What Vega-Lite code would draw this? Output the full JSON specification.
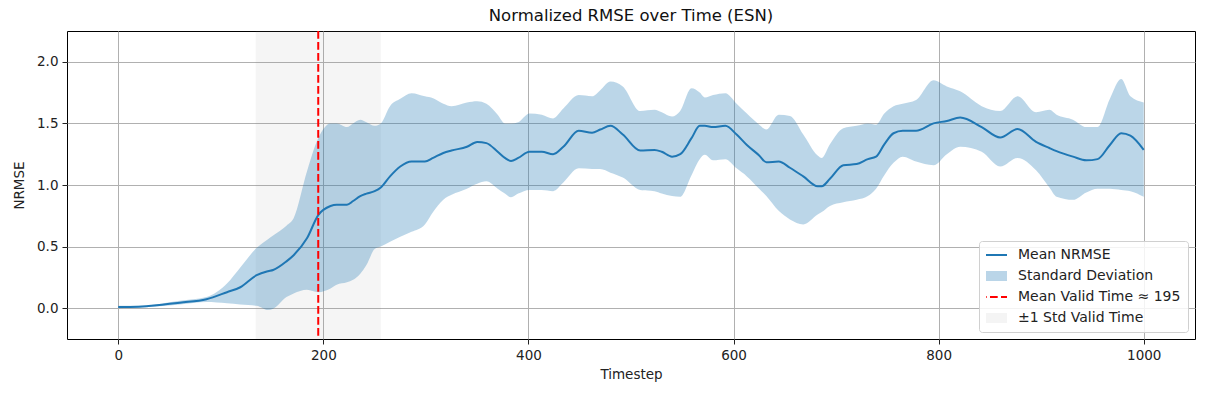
{
  "$schema": "https://vega.github.io/schema/vega-lite/v6.json",
  "width": 1128,
  "height": 308,
  "autosize": {"type": "none"},
  "padding": {"left": 67, "top": 31, "right": 19, "bottom": 55},
  "background": "white",
  "config": {
    "font": "DejaVu Sans",
    "view": {"stroke": "black", "strokeWidth": 1},
    "axis": {
      "labelFont": "DejaVu Sans", "labelFontSize": 13.5, "labelColor": "#222",
      "titleFont": "DejaVu Sans", "titleFontSize": 13.5, "titleFontWeight": "normal", "titleColor": "#222",
      "grid": true, "gridColor": "#b0b0b0", "gridWidth": 1,
      "domain": false, "tickColor": "#222", "tickSize": 5, "labelPadding": 4
    }
  },
  "title": {"text": "Normalized RMSE over Time (ESN)", "font": "DejaVu Sans", "fontSize": 16.5, "fontWeight": "normal", "color": "#111", "offset": 6},
  "datasets": {
    "series": [
      {"t": 0, "mean": 0.01, "lo": 0.0, "hi": 0.02},
      {"t": 20, "mean": 0.012, "lo": 0.005, "hi": 0.02},
      {"t": 40, "mean": 0.025, "lo": 0.015, "hi": 0.035},
      {"t": 60, "mean": 0.045, "lo": 0.03, "hi": 0.06},
      {"t": 86, "mean": 0.073, "lo": 0.05, "hi": 0.09},
      {"t": 106, "mean": 0.13, "lo": 0.04, "hi": 0.2},
      {"t": 119, "mean": 0.17, "lo": 0.03, "hi": 0.33},
      {"t": 135, "mean": 0.268, "lo": 0.02, "hi": 0.49},
      {"t": 146, "mean": 0.3, "lo": -0.015, "hi": 0.56},
      {"t": 151, "mean": 0.31, "lo": -0.005, "hi": 0.59},
      {"t": 164, "mean": 0.38, "lo": 0.09, "hi": 0.67},
      {"t": 171, "mean": 0.43, "lo": 0.12, "hi": 0.73},
      {"t": 184, "mean": 0.567, "lo": 0.15, "hi": 1.11},
      {"t": 195, "mean": 0.756, "lo": 0.13, "hi": 1.38},
      {"t": 207, "mean": 0.83, "lo": 0.16, "hi": 1.5},
      {"t": 213, "mean": 0.84, "lo": 0.19, "hi": 1.5},
      {"t": 223, "mean": 0.84, "lo": 0.21, "hi": 1.47},
      {"t": 229, "mean": 0.87, "lo": 0.23, "hi": 1.5},
      {"t": 236, "mean": 0.91, "lo": 0.28, "hi": 1.53},
      {"t": 242, "mean": 0.93, "lo": 0.35, "hi": 1.51},
      {"t": 250, "mean": 0.95, "lo": 0.48, "hi": 1.48},
      {"t": 256, "mean": 0.98, "lo": 0.5, "hi": 1.5},
      {"t": 265, "mean": 1.07, "lo": 0.54, "hi": 1.64},
      {"t": 275, "mean": 1.15, "lo": 0.58, "hi": 1.7},
      {"t": 286, "mean": 1.19, "lo": 0.62, "hi": 1.745},
      {"t": 299, "mean": 1.19, "lo": 0.68, "hi": 1.72},
      {"t": 307, "mean": 1.22, "lo": 0.78, "hi": 1.705},
      {"t": 317, "mean": 1.26, "lo": 0.88, "hi": 1.66},
      {"t": 325, "mean": 1.28, "lo": 0.92, "hi": 1.64},
      {"t": 340, "mean": 1.31, "lo": 0.97, "hi": 1.67},
      {"t": 350, "mean": 1.35, "lo": 1.01, "hi": 1.68},
      {"t": 359, "mean": 1.34, "lo": 1.03, "hi": 1.66},
      {"t": 370, "mean": 1.27, "lo": 0.97, "hi": 1.57},
      {"t": 377, "mean": 1.22, "lo": 0.93, "hi": 1.5},
      {"t": 383, "mean": 1.195, "lo": 0.9, "hi": 1.5},
      {"t": 390, "mean": 1.22, "lo": 0.93, "hi": 1.51},
      {"t": 401, "mean": 1.27, "lo": 0.96, "hi": 1.58},
      {"t": 413, "mean": 1.27, "lo": 0.96, "hi": 1.57},
      {"t": 424, "mean": 1.25, "lo": 0.95, "hi": 1.54},
      {"t": 434, "mean": 1.31, "lo": 1.02, "hi": 1.62},
      {"t": 449, "mean": 1.44, "lo": 1.135, "hi": 1.73},
      {"t": 462, "mean": 1.425, "lo": 1.13, "hi": 1.72},
      {"t": 470, "mean": 1.45, "lo": 1.13, "hi": 1.77},
      {"t": 480, "mean": 1.48, "lo": 1.1, "hi": 1.84},
      {"t": 492, "mean": 1.41, "lo": 1.06, "hi": 1.8},
      {"t": 509, "mean": 1.28, "lo": 0.96, "hi": 1.6},
      {"t": 523, "mean": 1.285, "lo": 0.95, "hi": 1.61},
      {"t": 530, "mean": 1.27, "lo": 0.93, "hi": 1.59},
      {"t": 540, "mean": 1.23, "lo": 0.91, "hi": 1.555},
      {"t": 548, "mean": 1.25, "lo": 0.905, "hi": 1.6},
      {"t": 559, "mean": 1.38, "lo": 1.08, "hi": 1.785},
      {"t": 567, "mean": 1.48, "lo": 1.21, "hi": 1.75},
      {"t": 572, "mean": 1.48, "lo": 1.245, "hi": 1.71},
      {"t": 580, "mean": 1.47, "lo": 1.2, "hi": 1.73},
      {"t": 592, "mean": 1.48, "lo": 1.21, "hi": 1.745},
      {"t": 603, "mean": 1.41, "lo": 1.135, "hi": 1.66},
      {"t": 613, "mean": 1.325, "lo": 1.07, "hi": 1.58},
      {"t": 625, "mean": 1.24, "lo": 0.97, "hi": 1.49},
      {"t": 632, "mean": 1.185, "lo": 0.91, "hi": 1.45},
      {"t": 644, "mean": 1.19, "lo": 0.79, "hi": 1.57},
      {"t": 655, "mean": 1.14, "lo": 0.72, "hi": 1.56},
      {"t": 668, "mean": 1.07, "lo": 0.68, "hi": 1.41},
      {"t": 682, "mean": 0.99, "lo": 0.76, "hi": 1.24},
      {"t": 686, "mean": 0.99, "lo": 0.78, "hi": 1.22},
      {"t": 694, "mean": 1.05, "lo": 0.83, "hi": 1.33},
      {"t": 707, "mean": 1.16, "lo": 0.86, "hi": 1.46},
      {"t": 720, "mean": 1.17, "lo": 0.88, "hi": 1.48},
      {"t": 731, "mean": 1.21, "lo": 0.91, "hi": 1.5},
      {"t": 739, "mean": 1.23, "lo": 0.97, "hi": 1.49},
      {"t": 747, "mean": 1.33, "lo": 1.08, "hi": 1.58},
      {"t": 756, "mean": 1.42, "lo": 1.18, "hi": 1.64},
      {"t": 765, "mean": 1.44, "lo": 1.23, "hi": 1.66},
      {"t": 778, "mean": 1.44, "lo": 1.19, "hi": 1.69},
      {"t": 795, "mean": 1.5, "lo": 1.16, "hi": 1.85},
      {"t": 808, "mean": 1.52, "lo": 1.25, "hi": 1.8},
      {"t": 821, "mean": 1.547, "lo": 1.31, "hi": 1.76},
      {"t": 842, "mean": 1.47, "lo": 1.27, "hi": 1.64},
      {"t": 860, "mean": 1.385, "lo": 1.15, "hi": 1.6},
      {"t": 877, "mean": 1.455, "lo": 1.22, "hi": 1.72},
      {"t": 895, "mean": 1.35, "lo": 1.12, "hi": 1.59},
      {"t": 908, "mean": 1.3, "lo": 0.98, "hi": 1.61},
      {"t": 915, "mean": 1.275, "lo": 0.905, "hi": 1.57},
      {"t": 931, "mean": 1.23, "lo": 0.88, "hi": 1.53},
      {"t": 944, "mean": 1.2, "lo": 0.94, "hi": 1.47},
      {"t": 955, "mean": 1.21, "lo": 0.97, "hi": 1.47},
      {"t": 967, "mean": 1.325, "lo": 0.97, "hi": 1.7},
      {"t": 978, "mean": 1.42, "lo": 0.96, "hi": 1.86},
      {"t": 987, "mean": 1.4, "lo": 0.95, "hi": 1.72},
      {"t": 1000, "mean": 1.285, "lo": 0.905, "hi": 1.67}
    ],
    "valid": [{"start": 134, "end": 256, "meanValid": 195}]
  },
  "layer": [
    {
      "data": {"name": "valid"},
      "mark": {"type": "rect", "opacity": 0.08},
      "encoding": {
        "x": {"field": "start", "type": "quantitative"},
        "x2": {"field": "end"},
        "color": {"datum": "±1 Std Valid Time"}
      }
    },
    {
      "data": {"name": "series"},
      "mark": {"type": "area", "opacity": 0.3, "interpolate": "monotone"},
      "encoding": {
        "x": {"field": "t", "type": "quantitative"},
        "y": {"field": "lo", "type": "quantitative"},
        "y2": {"field": "hi"},
        "color": {"datum": "Standard Deviation"}
      }
    },
    {
      "data": {"name": "series"},
      "mark": {"type": "line", "strokeWidth": 2, "interpolate": "monotone"},
      "encoding": {
        "x": {"field": "t", "type": "quantitative", "title": "Timestep",
              "scale": {"domain": [-50, 1050], "nice": false, "zero": false},
              "axis": {"values": [0, 200, 400, 600, 800, 1000], "format": "d", "titlePadding": 6}},
        "y": {"field": "mean", "type": "quantitative", "title": "NRMSE",
              "scale": {"domain": [-0.25, 2.25], "nice": false, "zero": false},
              "axis": {"values": [0, 0.5, 1, 1.5, 2], "format": ".1f", "titlePadding": 10}},
        "color": {
          "datum": "Mean NRMSE",
          "scale": {
            "domain": ["Mean NRMSE", "Standard Deviation", "Mean Valid Time ≈ 195", "±1 Std Valid Time"],
            "range": ["#1f77b4", "#1f77b4", "red", "gray"]
          },
          "legend": {
            "title": null,
            "orient": "bottom-right",
            "offset": 7,
            "symbolType": "stroke",
            "symbolSize": 784,
            "symbolStrokeWidth": 2,
            "clipHeight": 14,
            "labelFont": "DejaVu Sans",
            "labelFontSize": 14,
            "labelColor": "#222",
            "labelOffset": 18,
            "labelLimit": 300,
            "rowPadding": 7,
            "padding": 7,
            "fillColor": "rgba(255,255,255,0.85)",
            "strokeColor": "#d0d0d0",
            "cornerRadius": 3,
            "encode": {
              "symbols": {
                "update": {
                  "stroke": {"signal": "scale('color', datum.value)"},
                  "fill": {"value": "transparent"},
                  "strokeWidth": {"signal": "datum.value === 'Standard Deviation' || datum.value === '±1 Std Valid Time' ? 10 : 2"},
                  "strokeDash": {"signal": "datum.value === 'Mean Valid Time ≈ 195' ? [7.7, 3.3] : [1, 0]"},
                  "opacity": {"signal": "datum.value === 'Standard Deviation' ? 0.3 : datum.value === '±1 Std Valid Time' ? 0.08 : 1"}
                }
              }
            }
          }
        }
      }
    },
    {
      "data": {"name": "valid"},
      "mark": {"type": "rule", "strokeWidth": 2, "strokeDash": [7.7, 3.3]},
      "encoding": {
        "x": {"field": "meanValid", "type": "quantitative"},
        "color": {"datum": "Mean Valid Time ≈ 195"}
      }
    }
  ]
}
